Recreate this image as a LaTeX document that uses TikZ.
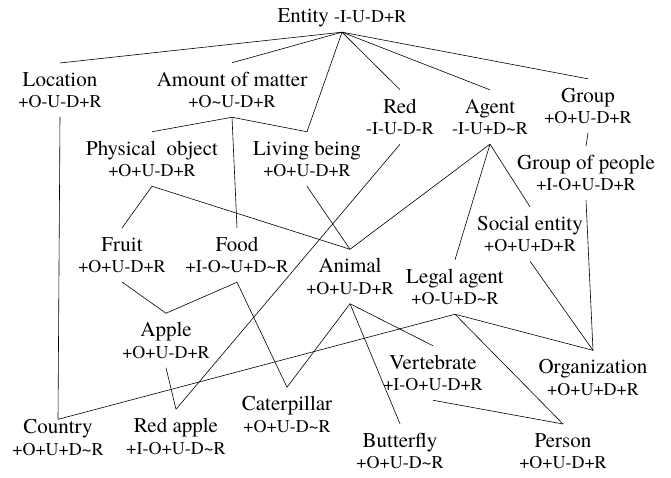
\documentclass[tikz,border=0pt]{standalone}
\usepackage{fontspec}
\setmainfont{texgyretermes}[Extension=.otf, UprightFont=*-regular, BoldFont=*-bold]
\usepackage{tikz}
\usetikzlibrary{positioning}

\newcommand{\flags}[1]{{\fontsize{18}{21.5}\selectfont #1}}
\newcommand{\tld}{\textasciitilde}

\tikzset{
    concept/.style={align=center, inner xsep=2pt, inner ysep=9pt,
        font=\fontsize{21}{21.5}\selectfont},
    link/.style={line width=0.6pt}
}

\begin{document}
\begin{tikzpicture}[x=1pt, y=-1pt]
    \useasboundingbox (0,0) rectangle (671,477);

    % Top concept
    \node[concept, anchor=base, inner ysep=5.4pt] (entity) at (342,22) {Entity \flags{-I-U-D+R}};

    % Concepts, row by row
    \node[concept] (location) at (60,90) {Location\\\flags{+O-U-D+R}};
    \node[concept] (matter) at (232,90) {Amount of matter\\\flags{+O\tld U-D+R}};
    \node[concept] (red) at (400,117) {Red\\\flags{-I-U-D-R}};
    \node[concept] (agent) at (490,117) {Agent\\\flags{-I-U+D\tld R}};
    \node[concept] (group) at (588,106) {Group\\\flags{+O+U-D+R}};

    \node[concept] (physobj) at (152,159) {Physical\ \ object\\\flags{+O+U-D+R}};
    \node[concept] (living) at (307,159) {Living being\\\flags{+O+U-D+R}};
    \node[concept] (people) at (586,173) {Group of people\\\flags{+I-O+U-D+R}};
    \node[concept] (social) at (530,234) {Social entity\\\flags{+O+U+D+R}};

    \node[concept] (fruit) at (122,255) {Fruit\\\flags{+O+U-D+R}};
    \node[concept] (food) at (237,255) {Food\\\flags{+I-O\tld U+D\tld R}};
    \node[concept] (animal) at (350,276.5) {Animal\\\flags{+O+U-D+R}};
    \node[concept] (legal) at (455,287) {Legal agent\\\flags{+O-U+D\tld R}};

    \node[concept] (apple) at (166,340.5) {Apple\\\flags{+O+U-D+R}};
    \node[concept] (vertebrate) at (433,373) {Vertebrate\\\flags{+I-O+U-D+R}};
    \node[concept] (organization) at (593,377.5) {Organization\\\flags{+O+U+D+R}};
    \node[concept] (caterpillar) at (287,414.5) {Caterpillar\\\flags{+O+U-D\tld R}};

    \node[concept] (country) at (58,437.5) {Country\\\flags{+O+U+D\tld R}};
    \node[concept] (redapple) at (176,436.5) {Red apple\\\flags{+I-O+U-D\tld R}};
    \node[concept] (butterfly) at (400,451) {Butterfly\\\flags{+O+U-D\tld R}};
    \node[concept] (person) at (563,451) {Person\\\flags{+O+U-D+R}};

    % Links from parent to child
    \foreach \a/\b in {entity/location, entity/matter, entity/living, entity/red,
        entity/agent, entity/group, matter/physobj, matter/food, matter/living,
        group/people, agent/social, agent/legal, agent/animal, red/redapple,
        physobj/fruit, physobj/animal, living/animal, food/apple, food/caterpillar,
        fruit/apple, apple/redapple, animal/caterpillar, animal/butterfly,
        animal/vertebrate, legal/person, legal/organization, social/organization,
        people/organization, vertebrate/person} {
        \draw[link] (\a.south) -- (\b.north);
    }

    % Country is reached right at its text
    \draw[link] (location.south) -- ([yshift=-9pt]country.north);
    \draw[link] (legal.south) -- ([yshift=-9pt]country.north);
\end{tikzpicture}
\end{document}
